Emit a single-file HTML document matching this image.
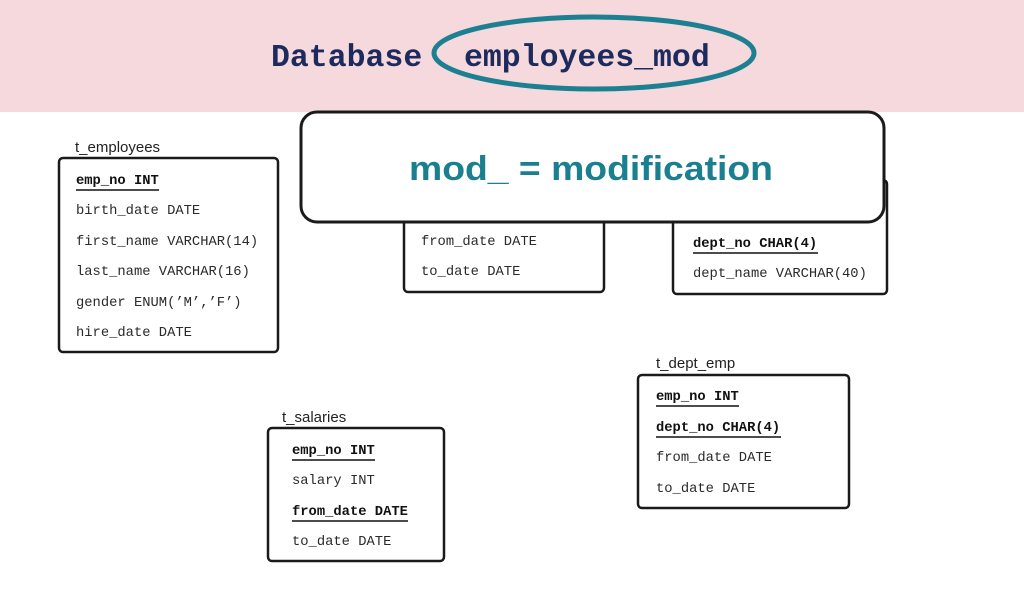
<!DOCTYPE html>
<html><head><meta charset="utf-8"><style>
html,body{margin:0;padding:0;background:#fff}
svg{display:block}
.m{font-family:"Liberation Mono",monospace;font-size:13.8px;fill:#2a2a2a}
.b{font-weight:bold;fill:#111}
.l{font-family:"Liberation Sans",sans-serif;font-size:15px;fill:#222}
.bx{fill:#fff;stroke:#1a1a1a;stroke-width:2.5}
.u{stroke:#111;stroke-width:1.6}
</style></head><body>
<svg width="1024" height="593" viewBox="0 0 1024 593" xmlns="http://www.w3.org/2000/svg">
<rect x="0" y="0" width="1024" height="112" fill="#f5d9dc"/>
<text x="271" y="66" font-family="Liberation Mono,monospace" font-weight="bold" font-size="31.5" fill="#1c2a5e">Database</text>
<text x="464" y="66" font-family="Liberation Mono,monospace" font-weight="bold" font-size="31.5" fill="#1c2a5e">employees_mod</text>
<ellipse cx="594" cy="53" rx="160" ry="36" fill="none" stroke="#1d7f92" stroke-width="5"/>

<!-- t_employees -->
<text class="l" x="75" y="152">t_employees</text>
<rect class="bx" x="59" y="158" width="219" height="194" rx="4"/>
<text class="m b" x="76" y="184">emp_no INT</text><line class="u" x1="76" y1="190" x2="159" y2="190"/>
<text class="m" x="76" y="214">birth_date DATE</text>
<text class="m" x="76" y="245">first_name VARCHAR(14)</text>
<text class="m" x="76" y="275">last_name VARCHAR(16)</text>
<text class="m" x="76" y="306">gender ENUM(’M’,’F’)</text>
<text class="m" x="76" y="336">hire_date DATE</text>

<!-- hidden middle -->
<rect class="bx" x="404" y="180" width="200" height="112" rx="4"/>
<text class="m" x="421" y="245">from_date DATE</text>
<text class="m" x="421" y="275">to_date DATE</text>

<!-- right hidden -->
<rect class="bx" x="673" y="180" width="214" height="114" rx="4"/>
<text class="m b" x="693" y="247">dept_no CHAR(4)</text><line class="u" x1="693" y1="253" x2="818" y2="253"/>
<text class="m" x="693" y="277">dept_name VARCHAR(40)</text>

<!-- callout -->
<rect x="301" y="112" width="583" height="110" rx="16" fill="#fff" stroke="#1a1a1a" stroke-width="3"/>
<text x="409" y="180" font-family="Liberation Sans,sans-serif" font-weight="bold" font-size="34" fill="#1a7f8e" textLength="364" lengthAdjust="spacingAndGlyphs">mod_ = modification</text>

<!-- t_dept_emp -->
<text class="l" x="656" y="368">t_dept_emp</text>
<rect class="bx" x="638" y="375" width="211" height="133" rx="4"/>
<text class="m b" x="656" y="400">emp_no INT</text><line class="u" x1="656" y1="406" x2="739" y2="406"/>
<text class="m b" x="656" y="431">dept_no CHAR(4)</text><line class="u" x1="656" y1="437" x2="781" y2="437"/>
<text class="m" x="656" y="461">from_date DATE</text>
<text class="m" x="656" y="492">to_date DATE</text>

<!-- t_salaries -->
<text class="l" x="282" y="422">t_salaries</text>
<rect class="bx" x="268" y="428" width="176" height="133" rx="4"/>
<text class="m b" x="292" y="454">emp_no INT</text><line class="u" x1="292" y1="460" x2="375" y2="460"/>
<text class="m" x="292" y="484">salary INT</text>
<text class="m b" x="292" y="515">from_date DATE</text><line class="u" x1="292" y1="521" x2="408" y2="521"/>
<text class="m" x="292" y="545">to_date DATE</text>
</svg>
</body></html>
